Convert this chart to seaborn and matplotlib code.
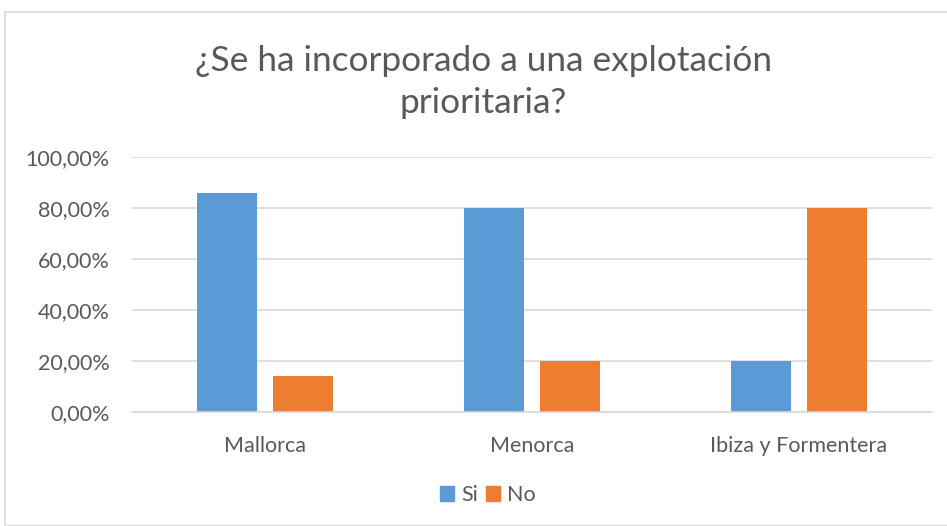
import pandas as pd
import matplotlib.pyplot as plt
import seaborn as sns
from matplotlib.patches import Rectangle
from matplotlib.ticker import FuncFormatter

sns.set_style("white")
plt.rcParams['font.family'] = ['Lato', 'DejaVu Sans']

# Data
islands = ['Mallorca', 'Menorca', 'Ibiza y Formentera']
si_values = [85.71, 80.0, 20.0]
no_values = [14.29, 20.0, 80.0]
series = ['Si', 'No']

df = pd.DataFrame({
    'isla': islands * 2,
    'respuesta': ['Si'] * 3 + ['No'] * 3,
    'valor': si_values + no_values,
})

text_color = '#595959'
grid_color = '#d9d9d9'
colors = ['#5b9bd5', '#ed7d31']

fig = plt.figure(figsize=(9.47, 5.26), dpi=100)
ax = fig.add_axes([132 / 947, 1 - 412 / 526, 800 / 947, 255 / 526])

sns.barplot(data=df, x='isla', y='valor', hue='respuesta', hue_order=series,
            palette=colors, saturation=1, width=0.57, gap=0.21,
            linewidth=0, ax=ax, legend=False)

ax.set_xlim(-0.5, 2.5)
ax.set_ylim(0, 100)
ax.set_yticks([0, 20, 40, 60, 80, 100])
ax.yaxis.set_major_formatter(FuncFormatter(lambda v, p: f'{v:.2f}%'.replace('.', ',')))
ax.grid(axis='y', color=grid_color, linewidth=1.2)
ax.set_axisbelow(True)
for s in ['top', 'right', 'left']:
    ax.spines[s].set_visible(False)
ax.spines['bottom'].set_color(grid_color)
ax.spines['bottom'].set_linewidth(1.2)
ax.tick_params(axis='y', length=0, labelsize=15.5, labelcolor=text_color, pad=16)
ax.tick_params(axis='x', length=0, labelsize=15.5, labelcolor=text_color, pad=17)
ax.set_xlabel('')
ax.set_ylabel('')

# Title
fig.text(483 / 947, 1 - 82 / 526, '¿Se ha incorporado a una explotación\nprioritaria?',
         ha='center', va='center', fontsize=25.4, color=text_color,
         linespacing=1.38)

# Legend
handles = [Rectangle((0, 0), 1, 1, color=c) for c in colors]
fig.legend(handles, series, loc='center', bbox_to_anchor=(0.515, 1 - 495 / 526),
           ncol=2, frameon=False, fontsize=15.5, handlelength=0.65, handleheight=0.65,
           handletextpad=0.35, columnspacing=0.35, labelcolor=text_color)

# Chart border
fig.patches.append(Rectangle((5 / 947, 0), 1, 1 - 12 / 526, transform=fig.transFigure,
                             fill=False, edgecolor=grid_color, linewidth=1.2))

plt.savefig('out.png', dpi=100)
plt.close()
